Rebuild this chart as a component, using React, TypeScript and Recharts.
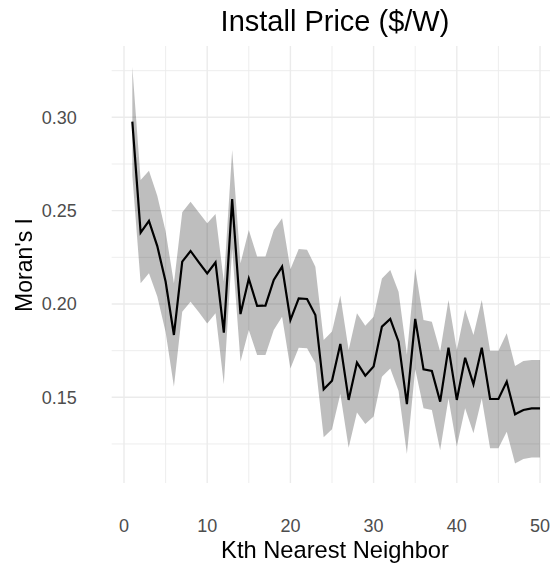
import React from "react";
import { ComposedChart, Area, Line, XAxis, YAxis, CartesianGrid } from "recharts";

const kValues = [
  1, 2, 3, 4, 5, 6, 7, 8, 9, 10, 11, 12, 13, 14, 15, 16, 17, 18, 19, 20, 21, 22, 23, 24, 25,
  26, 27, 28, 29, 30, 31, 32, 33, 34, 35, 36, 37, 38, 39, 40, 41, 42, 43, 44, 45, 46, 47, 48, 49, 50,
];

const moransI = [
  0.2977, 0.2382, 0.2445, 0.231, 0.212, 0.1834, 0.2227, 0.2284, 0.2223, 0.2164,
  0.2223, 0.1846, 0.2562, 0.1946, 0.2135, 0.199, 0.1991, 0.2129, 0.22, 0.1914,
  0.203, 0.2027, 0.1941, 0.1543, 0.1589, 0.1786, 0.1486, 0.1686, 0.1616, 0.1665,
  0.1879, 0.192, 0.1798, 0.1464, 0.192, 0.165, 0.1641, 0.1477, 0.1766, 0.1486,
  0.1712, 0.157, 0.1766, 0.1491, 0.1491, 0.1584, 0.1409, 0.1432, 0.1441, 0.1441,
];

const upperCI = [
  0.3271, 0.2664, 0.2714, 0.258, 0.239, 0.2111, 0.2491, 0.2548, 0.249, 0.2432,
  0.2482, 0.212, 0.2825, 0.2218, 0.2396, 0.2254, 0.2254, 0.2396, 0.2459, 0.2186,
  0.2295, 0.2291, 0.22, 0.1807, 0.1852, 0.2045, 0.1754, 0.195, 0.1884, 0.1932,
  0.2137, 0.2182, 0.2066, 0.173, 0.219, 0.1914, 0.1905, 0.1745, 0.2021, 0.1754,
  0.1971, 0.1834, 0.2021, 0.175, 0.175, 0.1843, 0.1668, 0.1695, 0.17, 0.17,
];

const lowerCI = [
  0.269, 0.2111, 0.2164, 0.204, 0.185, 0.1557, 0.1959, 0.2012, 0.1956, 0.1896,
  0.195, 0.157, 0.2296, 0.169, 0.186, 0.1727, 0.1727, 0.1861, 0.1932, 0.1655,
  0.1766, 0.1763, 0.1682, 0.1286, 0.1329, 0.1518, 0.123, 0.1419, 0.1357, 0.1397,
  0.161, 0.1655, 0.1534, 0.1197, 0.165, 0.1441, 0.1432, 0.1217, 0.1494, 0.1236,
  0.1441, 0.1307, 0.1494, 0.1227, 0.1227, 0.1316, 0.1146, 0.117, 0.1177, 0.1177,
];

const xTicks = [0, 10, 20, 30, 40, 50];
const xMinorGrid = [5, 15, 25, 35, 45];
const yTicks = [0.15, 0.2, 0.25, 0.3];
const yMinorGrid = [0.125, 0.175, 0.225, 0.275, 0.325];

const chartTitle = "Install Price ($/W)";
const xTitle = "Kth Nearest Neighbor";
const yTitle = "Moran's I";

const data = kValues.map((k, i) => ({
  k,
  value: moransI[i],
  range: [lowerCI[i], upperCI[i]],
}));

const FONT = "'Liberation Sans', Arial, Helvetica, sans-serif";
const W = 542;
const H = 555;

export default function App() {
  return (
    <div
      style={{
        position: "fixed",
        left: 8,
        top: 8,
        width: W,
        height: H,
        fontFamily: FONT,
        background: "#ffffff",
      }}
    >
      <ComposedChart
        width={W}
        height={H}
        data={data}
        margin={{ top: 38, right: 0, bottom: 0, left: 0 }}
        style={{ overflow: "visible" }}
      >
        <CartesianGrid
          stroke="#EBEBEB"
          strokeWidth={0.9}
          horizontalValues={yMinorGrid}
          verticalValues={xMinorGrid}
        />
        <CartesianGrid
          stroke="#EBEBEB"
          strokeWidth={1.4}
          horizontalValues={yTicks}
          verticalValues={xTicks}
        />
        <XAxis
          dataKey="k"
          type="number"
          domain={[-1.478, 51.2]}
          ticks={xTicks}
          interval={0}
          allowDataOverflow
          height={80}
          axisLine={false}
          tickLine={false}
          tickSize={0}
          tickMargin={36}
          tick={{ fill: "#4D4D4D", fontSize: 18, fontFamily: FONT }}
        />
        <YAxis
          type="number"
          domain={[0.1041, 0.3382]}
          ticks={yTicks}
          interval={0}
          allowDataOverflow
          width={103.7}
          axisLine={false}
          tickLine={false}
          tickSize={0}
          tickMargin={35}
          tickFormatter={(v: number) => v.toFixed(2)}
          tick={{ fill: "#4D4D4D", fontSize: 18, fontFamily: FONT }}
        />
        <Area
          dataKey="range"
          type="linear"
          stroke="none"
          fill="#000000"
          fillOpacity={0.255}
          isAnimationActive={false}
          dot={false}
          activeDot={false}
        />
        <Line
          dataKey="value"
          type="linear"
          stroke="#000000"
          strokeWidth={2.2}
          dot={false}
          activeDot={false}
          isAnimationActive={false}
        />
      </ComposedChart>
      <svg
        width={W}
        height={H}
        style={{ position: "absolute", left: 0, top: 0, pointerEvents: "none", overflow: "visible" }}
      >
        <text x={327} y={22.7} textAnchor="middle" fontSize={29} fill="#000" fontFamily={FONT}>
          {chartTitle}
        </text>
        <text x={327} y={549.5} textAnchor="middle" fontSize={23.7} fill="#000" fontFamily={FONT}>
          {xTitle}
        </text>
        <text
          x={24}
          y={257}
          textAnchor="middle"
          fontSize={23}
          fill="#000"
          fontFamily={FONT}
          transform="rotate(-90 24 257)"
        >
          {yTitle}
        </text>
      </svg>
    </div>
  );
}
